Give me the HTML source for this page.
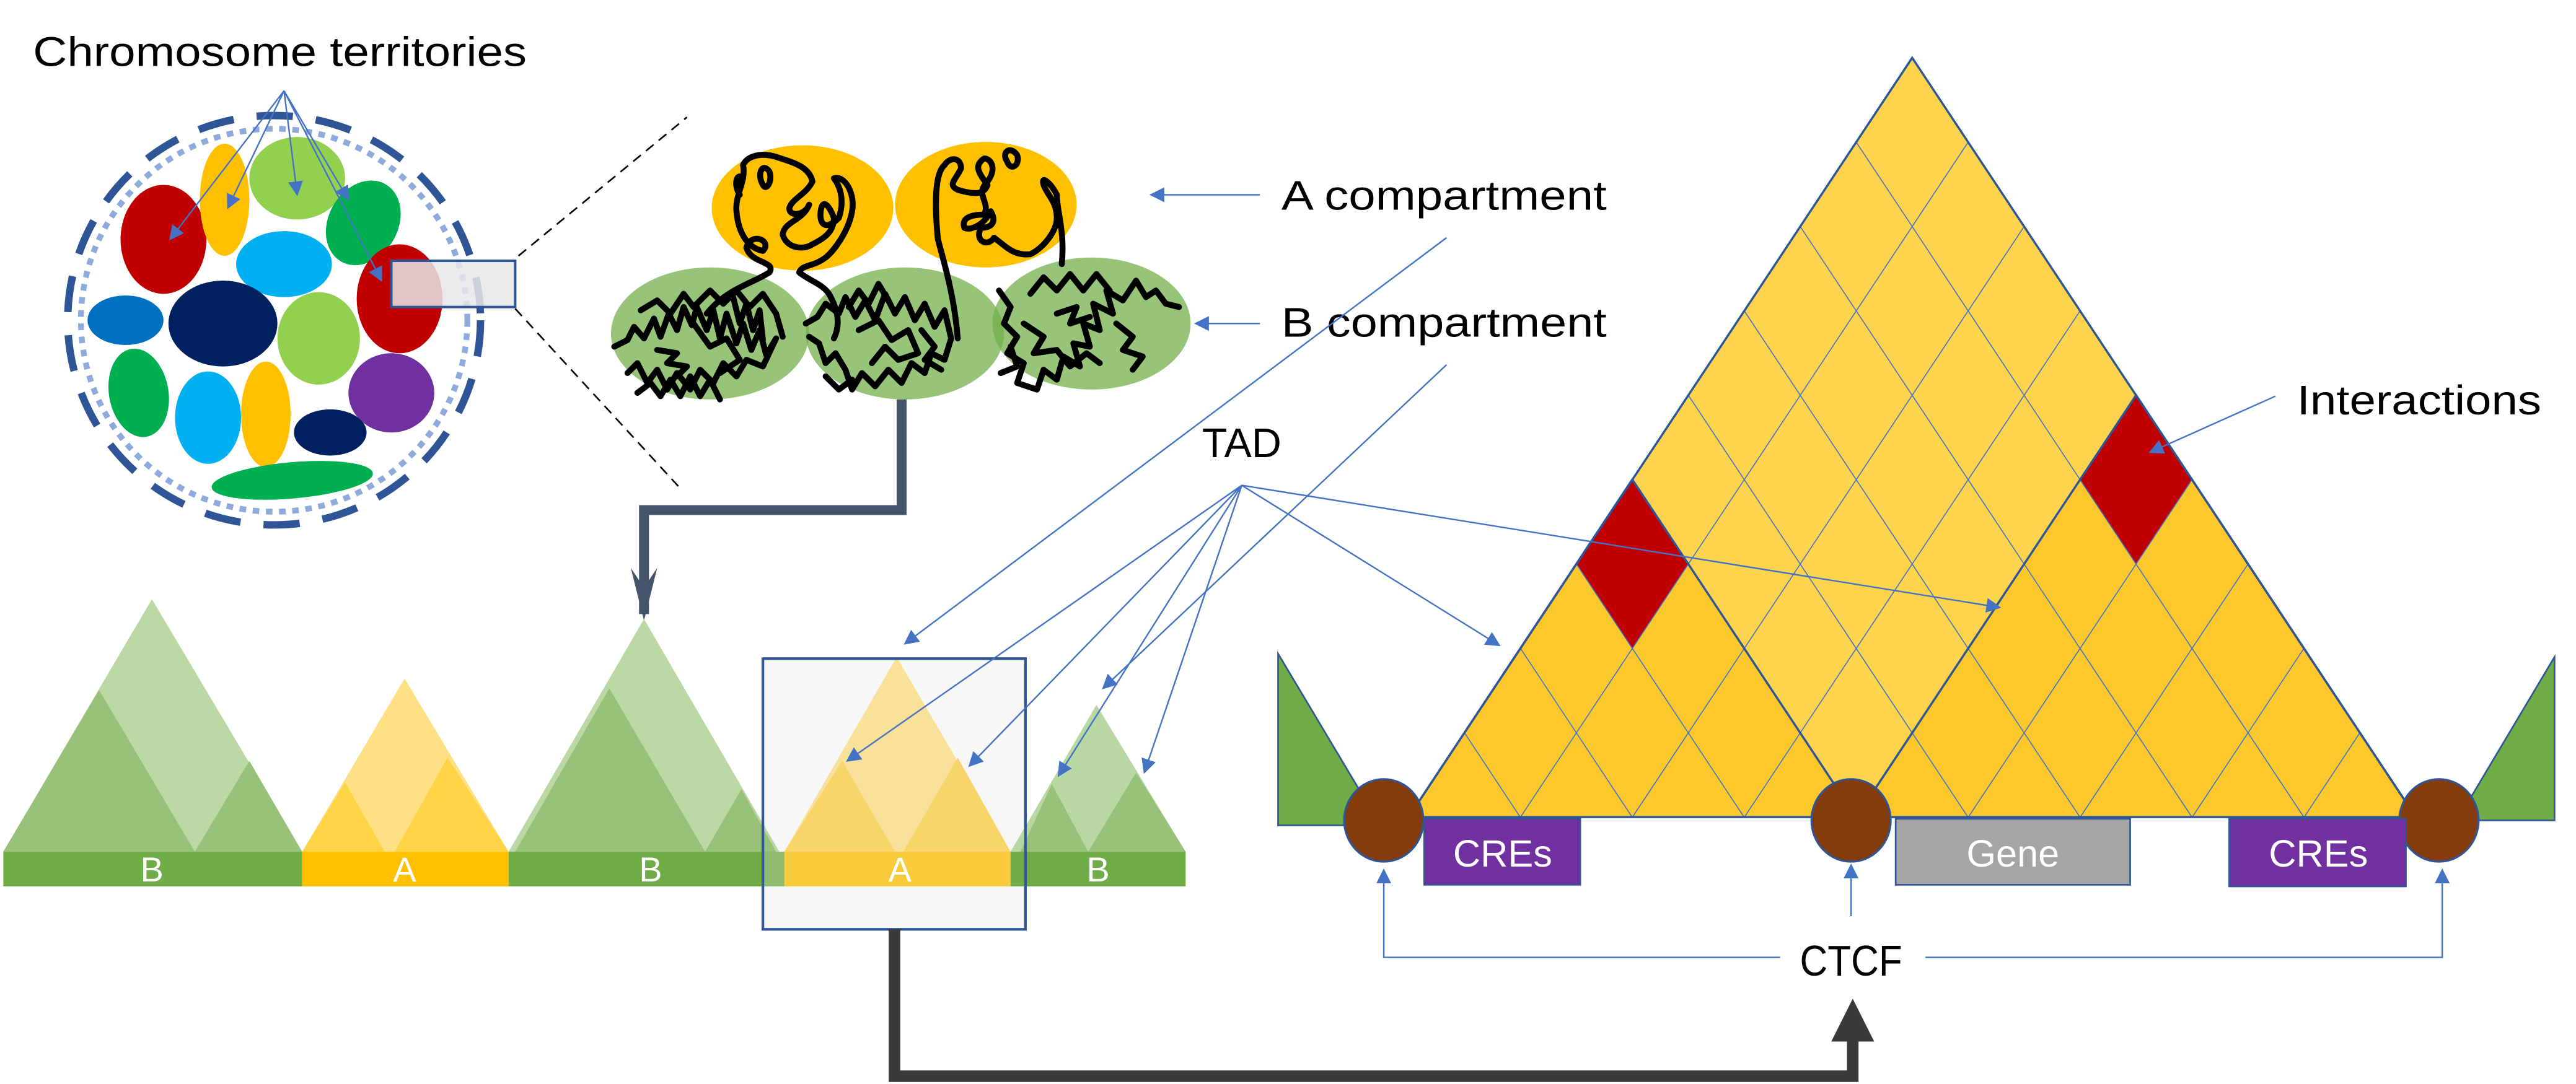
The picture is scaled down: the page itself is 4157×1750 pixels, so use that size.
<!DOCTYPE html>
<html><head><meta charset="utf-8">
<style>html,body{margin:0;padding:0;background:#fff;overflow:hidden}svg{display:block}</style>
</head><body>
<svg xmlns="http://www.w3.org/2000/svg" width="4157" height="1750" viewBox="0 0 1560 656.7" preserveAspectRatio="none" font-family="Liberation Sans, sans-serif">
<defs>
<marker id="ar" viewBox="0 0 10 10" refX="9" refY="5" markerWidth="9" markerHeight="9" markerUnits="userSpaceOnUse" orient="auto"><path d="M0,0 L10,5 L0,10 z" fill="#4472C4"/></marker>
<clipPath id="bigc"><polygon points="1158,35 853,495 1463,495"/></clipPath>
</defs>
<rect width="1560" height="656.7" fill="#fff"/>

<text x="20" y="40" font-size="25" textLength="299" lengthAdjust="spacingAndGlyphs">Chromosome territories</text>

<ellipse cx="166" cy="194" rx="125" ry="124" fill="none" stroke="#2F5597" stroke-width="4.5" stroke-dasharray="22 14"/>
<ellipse cx="166" cy="194" rx="117" ry="116" fill="none" stroke="#8FAADC" stroke-width="3.5" stroke-dasharray="4 4"/>
<ellipse cx="99" cy="145" rx="26" ry="33" fill="#C00000"/>
<ellipse cx="136" cy="121" rx="15" ry="34" fill="#FFC000"/>
<ellipse cx="180" cy="108" rx="29" ry="25" fill="#92D050"/>
<ellipse cx="220" cy="135" rx="21" ry="27" fill="#00B050" transform="rotate(30 220 135)"/>
<ellipse cx="172" cy="160" rx="29" ry="20" fill="#00B0F0"/>
<ellipse cx="242" cy="181" rx="26" ry="33" fill="#C00000"/>
<ellipse cx="76" cy="194" rx="23" ry="15" fill="#0070C0"/>
<ellipse cx="135" cy="196" rx="33" ry="26" fill="#002060"/>
<ellipse cx="193" cy="205" rx="25" ry="28" fill="#92D050"/>
<ellipse cx="84" cy="238" rx="18" ry="27" fill="#00B050" transform="rotate(-10 84 238)"/>
<ellipse cx="126" cy="253" rx="20" ry="28" fill="#00B0F0"/>
<ellipse cx="161" cy="251" rx="15" ry="32" fill="#FFC000"/>
<ellipse cx="237" cy="238" rx="26" ry="24" fill="#7030A0"/>
<ellipse cx="200" cy="262" rx="22" ry="14" fill="#002060"/>
<ellipse cx="177" cy="291" rx="49" ry="11" fill="#00B050" transform="rotate(-5 177 291)"/>
<rect x="237" y="158" width="75" height="28" fill="#E8E8E8" fill-opacity="0.85" stroke="#2F5597" stroke-width="1.5"/>
<g stroke="#4472C4" stroke-width="0.9" fill="none" marker-end="url(#ar)">
<line x1="172" y1="55" x2="103" y2="145"/>
<line x1="172" y1="55" x2="138" y2="126"/>
<line x1="172" y1="55" x2="180" y2="118"/>
<line x1="172" y1="55" x2="211" y2="121"/>
<line x1="172" y1="55" x2="231" y2="170"/>
</g>
<g stroke="#000" stroke-width="1" stroke-dasharray="6 4">
<line x1="314" y1="155" x2="416" y2="71"/>
<line x1="312" y1="187" x2="413" y2="297"/>
</g>

<ellipse cx="486" cy="126" rx="55" ry="38" fill="#FFC000"/>
<ellipse cx="597" cy="124" rx="55" ry="38" fill="#FFC000"/>
<ellipse cx="430" cy="202" rx="60" ry="40" fill="#70AD47" fill-opacity="0.72"/>
<ellipse cx="548" cy="202" rx="60" ry="40" fill="#70AD47" fill-opacity="0.72"/>
<ellipse cx="661" cy="196" rx="60" ry="40" fill="#70AD47" fill-opacity="0.72"/>
<g fill="none" stroke="#000" stroke-width="3.6" stroke-linejoin="round" stroke-linecap="round">
<path d="M428,190 C440,175 455,172 466,165 C470,158 455,160 452,150 C455,140 468,146 462,152 C452,150 447,140 446,128 C445,118 452,110 450,100 C452,95 460,92 470,95 C478,98 490,100 492,110 C488,118 480,120 478,126 C478,132 488,130 490,124 C486,134 475,134 474,142 C476,150 486,152 492,148 C500,144 505,140 505,132 C502,124 498,120 497,128 C496,136 500,140 508,132 C512,120 508,112 505,108 C512,106 518,118 516,128 C514,140 505,152 500,156 C492,162 486,160 484,165 C490,170 498,172 502,178 C506,185 510,195 505,205"/>
<path d="M462,112 C458,105 462,98 466,104 C468,110 464,116 462,112 M448,118 C444,112 446,104 450,108"/>
<path d="M580,205 C578,180 572,160 568,145 C566,125 566,105 572,100 C575,95 582,95 582,102 C578,110 574,112 580,115 C590,118 596,118 598,112 C592,104 590,100 596,96 C600,96 604,102 598,110 C590,118 600,122 596,130 C588,130 582,132 584,138 C588,140 596,136 600,128 C604,135 600,138 594,138 C590,146 598,150 602,144 C610,150 614,155 624,154 C632,150 640,140 640,132 C640,122 634,118 632,112 C630,106 636,110 640,118 C640,128 645,140 643,160"/>
<path d="M610,98 C606,92 612,88 616,94 C618,100 612,104 610,98"/>
<path d="M372,210 L380,206 L384,198 L390,205 L396,193 L400,204 L405,190 L410,200 L414,186 L419,197 L422,186 L428,200 L432,188 L436,205 L440,190 L446,208 L450,196 L455,212 L460,200 L464,215 L470,205 L462,222 L452,218 L446,228 L438,220 L432,232 L424,224 L418,236 L410,226 L404,236 L398,224 L392,232 L386,220 L380,226 M388,188 L398,182 L406,190 L414,178 L420,186 L430,176 L438,184 L446,176 L454,186 L462,178 L470,190 L474,204 M420,196 L430,210 L440,205 L448,218 L436,226"/>
<path d="M386,238 L394,232 L400,240 L406,230 L412,240 L418,228 L424,240 L430,230 L436,242 M444,180 L448,196 L452,184 L456,200 L460,188 L462,206 M398,212 L410,214 L404,220 L416,222 L410,228"/>
<path d="M488,196 L495,192 L500,184 L508,190 L512,180 L518,192 L524,182 L530,194 L536,178 L542,190 L548,180 L554,194 L560,184 L566,198 L572,188 L576,205 L572,218 L564,214 L560,226 L552,220 L546,232 L538,224 L530,234 L522,226 L516,236 L512,224 L506,214 L500,220 L496,208 L490,204 M520,200 L532,194 L540,206 L550,200 L556,214 L544,218 L536,210 L528,220"/>
<path d="M514,186 L520,176 L526,184 L532,172 L538,182 M558,200 L566,210 L560,218 L570,224 M500,228 L508,236 L516,230"/>
<path d="M605,176 L612,186 L608,196 L616,204 L610,214 L620,220 L616,232 L628,236 L632,224 L640,230 L644,216 L654,222 L650,208 L660,210 L656,196 L666,200 L662,184 L674,190 L670,176 L680,182 L688,170 L694,180 L700,176 L706,184 L714,186 M624,178 L632,168 L640,176 L648,166 L656,176 L664,166 L672,176 M620,196 L632,204 L626,214 L640,212 L648,222 L658,214 L666,220"/>
<path d="M676,196 L686,204 L680,212 L692,216 L686,224 M640,190 L652,186 L648,196 L660,192 M606,226 L616,222 L612,210"/>
</g>
<text x="776" y="127" font-size="25" textLength="197" lengthAdjust="spacingAndGlyphs">A compartment</text>
<text x="776" y="204" font-size="25" textLength="197" lengthAdjust="spacingAndGlyphs">B compartment</text>
<g stroke="#4472C4" stroke-width="0.9" fill="none" marker-end="url(#ar)">
<line x1="763" y1="118" x2="697" y2="118"/>
<line x1="763" y1="196" x2="724" y2="196"/>
</g>

<path d="M546,242 V309 H390 V372" fill="none" stroke="#44546A" stroke-width="6"/>
<path d="M382,344 L390,376 L398,344 L390,356 z" fill="#44546A"/>

<text x="728" y="277" font-size="25" textLength="48" lengthAdjust="spacingAndGlyphs">TAD</text>

<polygon points="462,399 621,399 621,563 462,563" fill="#F7F7F7"/>
<g>
<polygon points="92,363 2,516 183,516" fill="#BAD7A4"/>
<polygon points="60,418 2,516 118,516" fill="#98C27A"/>
<polygon points="151,461 118,516 183,516" fill="#98C27A"/>
<polygon points="245,411 183,516 308,516" fill="#FFE085"/>
<polygon points="209,474 183,516 233,516" fill="#FFD346"/>
<polygon points="271,459 239,516 308,516" fill="#FFD346"/>
<polygon points="390,375 308,516 472,516" fill="#BAD7A4"/>
<polygon points="369,417 312,516 427,516" fill="#98C27A"/>
<polygon points="449,478 427,516 470,516" fill="#98C27A"/>
<polygon points="543,398 475,516 612,516" fill="#F8E199"/>
<polygon points="510,461 475,516 542,516" fill="#F8D56A"/>
<polygon points="580,459 547,516 612,516" fill="#F8D56A"/>
<polygon points="664,427 612,516 718,516" fill="#B8D7A2"/>
<polygon points="637,475 618,516 659,516" fill="#98C27A"/>
<polygon points="688,468 659,516 718,516" fill="#98C27A"/>
</g>
<rect x="2" y="516" width="181" height="21" fill="#70AD47"/>
<rect x="183" y="516" width="125" height="21" fill="#FFC000"/>
<rect x="308" y="516" width="167" height="21" fill="#70AD47"/>
<rect x="475" y="516" width="137" height="21" fill="#F8CB3C"/>
<rect x="612" y="516" width="106" height="21" fill="#70AD47"/>
<rect x="462" y="516" width="13" height="21" fill="#8FBC6E"/>
<g fill="#fff" font-size="21" text-anchor="middle">
<text x="92" y="534">B</text><text x="245" y="534">A</text><text x="394" y="534">B</text><text x="545" y="534">A</text><text x="665" y="534">B</text>
</g>
<rect x="462" y="399" width="159" height="164" fill="none" stroke="#2F5597" stroke-width="1.6"/>

<path d="M541.7,563 V652 H1122 V625" fill="none" stroke="#3A3A3A" stroke-width="7"/>
<polygon points="1109,631 1122,605 1135,631" fill="#3A3A3A"/>

<polygon points="774,396 836,500 774,500" fill="#70AD47" stroke="#2F5597" stroke-width="1"/>
<polygon points="1547,398 1547,497 1488,497" fill="#70AD47" stroke="#2F5597" stroke-width="1"/>
<polygon points="1158,35 853,495 1463,495" fill="#FED44F"/>
<polygon points="988.5,290.5 853,495 1124,495" fill="#FCC82B"/>
<polygon points="1293.6,239.4 1124.2,495 1463,495" fill="#FCC82B"/>
<polygon points="988.5,290.5 1022.4,341.6 988.5,392.7 954.6,341.6" fill="#C00000"/>
<polygon points="1293.6,239.4 1327.5,290.5 1293.6,341.6 1259.7,290.5" fill="#C00000"/>
<g stroke="#4472C4" stroke-width="0.6" clip-path="url(#bigc)">
<line x1="1191.9" y1="86.1" x2="920.8" y2="495"/><line x1="1124.1" y1="86.1" x2="1395.2" y2="495"/>
<line x1="1225.8" y1="137.2" x2="988.6" y2="495"/><line x1="1090.2" y1="137.2" x2="1327.4" y2="495"/>
<line x1="1259.7" y1="188.3" x2="1056.4" y2="495"/><line x1="1056.3" y1="188.3" x2="1259.6" y2="495"/>
<line x1="1293.6" y1="239.4" x2="1124.2" y2="495"/><line x1="1022.4" y1="239.4" x2="1191.8" y2="495"/>
<line x1="1327.5" y1="290.5" x2="1192" y2="495"/><line x1="988.5" y1="290.5" x2="1124" y2="495"/>
<line x1="1361.4" y1="341.6" x2="1259.8" y2="495"/><line x1="954.6" y1="341.6" x2="1056.2" y2="495"/>
<line x1="1395.3" y1="392.7" x2="1327.6" y2="495"/><line x1="920.7" y1="392.7" x2="988.4" y2="495"/>
<line x1="1429.2" y1="443.8" x2="1395.4" y2="495"/><line x1="886.8" y1="443.8" x2="920.6" y2="495"/>
</g>
<g fill="none" stroke="#2F5597" stroke-width="1.3">
<polygon points="1158,35 853,495 1463,495"/>
<polyline points="853,495 988.5,290.5 1124,495"/>
<polyline points="1124.2,495 1293.6,239.4 1463,495"/>
</g>
<g fill="#843C0C" stroke="#2F5597" stroke-width="1.2">
<ellipse cx="838" cy="497" rx="24" ry="25"/>
<ellipse cx="1121" cy="497" rx="24" ry="25"/>
<ellipse cx="1477" cy="497" rx="24" ry="25"/>
</g>
<rect x="862.5" y="496" width="94.5" height="40" fill="#7030A0" stroke="#2F5597" stroke-width="1"/>
<rect x="1148" y="496" width="142" height="40" fill="#A5A5A5" stroke="#2F5597" stroke-width="1"/>
<rect x="1350" y="496" width="107" height="41" fill="#7030A0" stroke="#2F5597" stroke-width="1"/>
<g fill="#fff" font-size="23" text-anchor="middle">
<text x="910" y="525">CREs</text><text x="1219" y="525">Gene</text><text x="1404" y="525">CREs</text>
</g>
<text x="1121" y="591" font-size="26" text-anchor="middle" textLength="62" lengthAdjust="spacingAndGlyphs">CTCF</text>
<g stroke="#4472C4" stroke-width="0.9" fill="none" marker-end="url(#ar)">
<polyline points="1078,580 838,580 838,527"/>
<polyline points="1166,580 1479,580 1479,527"/>
<line x1="1121" y1="555" x2="1121" y2="524"/>
</g>
<text x="1391" y="251" font-size="25" textLength="148" lengthAdjust="spacingAndGlyphs">Interactions</text>
<g stroke="#4472C4" stroke-width="0.9" fill="none" marker-end="url(#ar)">
<line x1="1378" y1="240" x2="1302" y2="274"/>
<line x1="752" y1="294" x2="908" y2="391"/>
<line x1="752" y1="294" x2="1211" y2="368"/>
<line x1="752" y1="294" x2="513" y2="461"/>
<line x1="752" y1="294" x2="587" y2="464"/>
<line x1="752" y1="294" x2="641" y2="470"/>
<line x1="752" y1="294" x2="693" y2="468"/>
<line x1="876" y1="144" x2="548" y2="390"/>
<line x1="876" y1="221" x2="668" y2="417"/>
</g>
</svg>
</body></html>
